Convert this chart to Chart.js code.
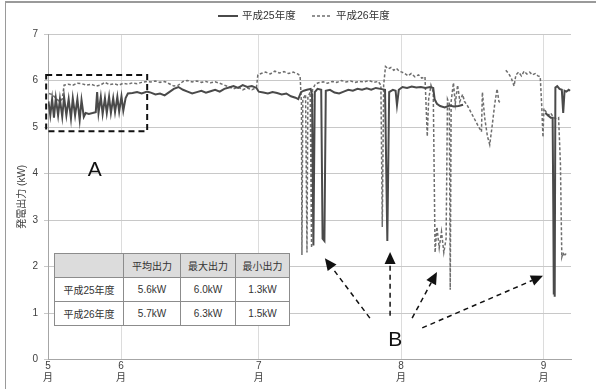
<!DOCTYPE html>
<html>
<head>
<meta charset="utf-8">
<script src="https://cdn.jsdelivr.net/npm/chart.js@4.4.1/dist/chart.umd.min.js"></script>
<style>
  html, body { margin: 0; padding: 0; background: #fff; }
  #wrap { position: relative; width: 596px; height: 389px; overflow: hidden; }
  #chart { position: absolute; left: 0; top: 0; }
  #frame { position: absolute; left: 5px; top: 1px; right: 0; bottom: 0;
           border-top: 2px solid #9a9a9a; border-left: 1px solid #9a9a9a; pointer-events: none; }
  #stats { position: absolute; left: 54px; top: 253px; border-collapse: collapse; background: #fff;
           font: 10px 'Liberation Sans', 'Noto Sans CJK JP', sans-serif; color: #333;
           border: 1.5px solid #777; table-layout: fixed; }
  #stats td { border: 1px solid #8c8c8c; text-align: center; padding: 0; height: 23px; }
  #stats tr:first-child td { background: #dcdcdc; }
  #stats td.corner { background: linear-gradient(to top right, #dcdcdc calc(50% - 0.6px), #8c8c8c 50%, #dcdcdc calc(50% + 0.6px)); }
</style>
</head>
<body>
<div id="wrap">
  <canvas id="chart" width="596" height="389"></canvas>
  <div id="frame"></div>
  <table id="stats"></table>
</div>
<script>
// x = days counted from May 1 (May 1 = 0)
const monthTickDays = [15.1, 31, 61, 92, 123];
const monthTickLabels = ['5', '6', '7', '8', '9'];
const xMin = 15.1;
const xMax = 129;

const seriesNames = ['平成25年度', '平成26年度'];

// 平成25年度 [day, kW]
const h25 = [
  [15.2,5.55],[15.6,5.25],[16.0,5.6],[16.4,5.2],[16.8,5.62],[17.3,5.25],[17.7,5.6],[18.2,5.22],
  [18.6,5.65],[19.1,5.25],[19.6,5.6],[20.1,5.18],[20.5,5.62],[21.0,5.25],[21.5,5.6],[22.0,5.15],
  [22.4,5.58],[22.9,5.22],[23.3,5.3],[24.0,5.28],[24.8,5.3],[25.5,5.32],[25.8,5.75],[26.1,5.3],
  [26.6,5.65],[27.0,5.28],[27.5,5.62],[27.9,5.3],[28.4,5.65],[28.8,5.3],[29.3,5.62],[29.7,5.32],
  [30.2,5.65],[30.6,5.33],[31.1,5.66],[31.5,5.35],[32.0,5.62],[32.5,5.72],[33.5,5.73],[34.5,5.75],
  [35.5,5.72],[36.7,5.76],
  [37.5,5.74],[38.5,5.70],[39.5,5.72],[40.5,5.68],[41.5,5.75],[42.5,5.82],[43.5,5.86],[44.5,5.80],
  [45.5,5.76],[46.5,5.72],[47.5,5.75],[48.5,5.78],[49.5,5.74],[50.5,5.77],[51.5,5.80],[52.5,5.76],
  [53.5,5.82],[54.5,5.85],[55.5,5.88],[56.5,5.84],[57.5,5.90],[58.5,5.86],[59.5,5.88],[60.5,5.84],
  [61.0,5.76],
  [62,5.74],[63,5.72],[64,5.75],[65,5.73],[66,5.70],[67,5.72],[68,5.66],[69,5.63],[69.6,5.60],
  [70.2,5.75],[70.8,5.78],[71.5,5.8],[72.3,5.82],[72.6,5.7],[72.9,2.45],[73.2,5.75],[73.8,5.82],
  [74.6,5.8],[74.9,2.6],[75.3,2.55],[75.6,5.78],[76.5,5.8],[77.5,5.74],[78.5,5.72],[79.5,5.76],
  [80.5,5.8],[81.5,5.78],[82.5,5.82],[83.5,5.8],[84.5,5.83],[85.5,5.8],[86.5,5.84],[87.5,5.82],
  [88.5,5.8],[89.0,2.55],[89.4,5.75],[90.2,5.8],[90.8,5.78],[91.1,5.47],[91.5,5.8],[92.3,5.86],
  [93.3,5.84],[94.3,5.87],[95.3,5.85],[96.3,5.86],[97.3,5.84],[98.3,5.86],[99.0,5.84],[99.3,5.6],
  [99.8,5.5],[100.5,5.45],[101.5,5.42],[102.5,5.46],[103.5,5.44],[104.5,5.45],[105.5,5.48],
  [106.0,null],
  [123.4,5.3],[124.0,5.25],[124.6,5.2],[125.0,5.2],[125.15,3.15],[125.25,1.4],[125.35,3.0],
  [125.45,1.35],[125.6,5.85],[126.0,5.88],[126.5,5.82],[127.0,5.8],[127.3,5.3],[127.6,5.78],
  [128.0,5.76],[128.5,5.8],[128.8,5.78]
];

// 平成26年度 [day, kW]
const h26 = [
  [15.3,5.72],[16.0,5.7],[16.8,5.62],[17.6,5.55],[18.2,5.6],[18.6,5.9],[19.5,5.92],[20.5,5.9],
  [21.5,5.94],[22.5,5.93],[23.5,5.9],[24.5,5.92],[25.5,5.88],[26.5,5.9],[27.5,5.96],[28.5,5.91],
  [29.5,5.93],[30.5,5.9],[31.5,5.94],[32.5,5.92],[33.5,5.95],[34.5,5.93],[35.5,5.96],[36.7,5.98],
  [37.5,5.97],[38.5,5.99],[39.5,5.96],[40.5,5.98],[41.5,5.93],[42.5,5.88],[43.5,5.9],[44.5,5.98],
  [45.5,6.0],[46.5,5.97],[47.5,5.99],[48.5,5.96],[49.5,5.98],[50.5,5.95],[51.5,5.97],[52.5,5.94],
  [53.5,5.9],[54.5,5.86],[55.5,5.82],[56.5,5.86],[57.5,5.8],[58.5,5.84],[59.5,5.8],[60.5,5.85],
  [60.8,6.12],
  [61.5,6.15],[62.5,6.18],[63.5,6.14],[64.5,6.2],[65.5,6.16],[66.5,6.19],[67.5,6.15],[68.5,6.18],
  [69.5,6.14],[70.0,6.1],[70.3,5.5],[70.4,2.25],[70.6,5.6],[71.2,5.7],[71.5,2.3],[71.7,5.65],
  [72.2,5.75],[72.5,2.4],[72.7,5.8],[73.3,5.92],[74,5.95],[75,5.97],[76,5.94],[77,5.98],[78,5.96],
  [79,6.0],[80,5.97],[81,5.99],[82,5.96],[83,5.98],[84,5.97],[85,6.0],[86,5.96],[87,5.98],
  [87.6,5.9],[87.9,2.85],[88.2,5.9],[88.6,6.3],[89.2,6.25],[89.8,6.28],[90.4,6.22],[91.0,6.26],
  [91.6,6.2],[92.2,6.18],[92.8,6.15],[93.5,6.1],[94.2,6.15],[95.0,6.08],[95.8,6.12],[96.5,6.05],
  [97.2,6.08],[97.7,4.8],[98.0,5.6],[98.5,5.9],[99.0,5.75],[99.4,2.3],[99.8,2.85],[100.3,2.4],
  [100.8,2.75],[101.3,2.3],[101.8,2.6],[102.1,5.6],[102.5,5.5],[102.7,1.5],[102.9,5.55],
  [103.4,5.95],[103.8,5.5],[104.3,5.9],[104.8,5.55],[105.4,5.7],[105.8,5.55],[106.5,5.45],
  [107.3,5.3],[108.1,5.15],[108.9,5.0],[109.5,4.9],[109.7,5.75],[110.2,5.2],[110.8,4.8],
  [111.3,4.62],[111.8,5.0],[112.4,5.5],[112.9,5.82],[113.3,5.55],[113.8,5.5],
  [114.3,null],
  [114.8,6.22],[115.4,6.15],[116.0,6.05],[116.6,5.88],[117.0,6.12],[117.6,6.18],[118.2,6.1],
  [118.8,6.2],[119.4,6.14],[120.0,6.18],[120.6,6.12],[121.2,6.15],[121.8,6.1],[122.3,6.08],
  [122.6,5.5],[122.9,4.78],[123.1,5.4],[123.4,5.35],[124.0,5.25],[124.6,5.3],[125.2,5.2],
  [125.8,5.18],[126.3,5.2],[126.7,4.2],[127.0,2.2],[127.3,2.3],[127.6,2.22],[127.9,2.28]
];

// inset table
const tableCols = ['平均出力', '最大出力', '最小出力'];
const tableRows = ['平成25年度', '平成26年度'];
const tableVals = [['5.6kW', '6.0kW', '1.3kW'], ['5.7kW', '6.3kW', '1.5kW']];

// notes drawn over the plot, in data units
const noteBox = { x1: 14.7, y1: 6.12, x2: 36.7, y2: 4.91 };
const noteLetters = [{ t: 'A', x: 25.3, y: 4.07 }, { t: 'B', x: 90.7, y: 0.42 }];
const noteArrows = [
  [85.2, 0.89, 75.4, 2.18],
  [89.6, 0.94, 89.6, 2.31],
  [94.4, 0.89, 99.8, 1.88],
  [96.6, 0.68, 122.9, 1.80]
];

// build table
const tbl = document.getElementById('stats');
const colW = [69, 57, 55, 54];
let html = '<colgroup>' + colW.map(w => `<col style="width:${w}px">`).join('') + '</colgroup>';
html += '<tr><td class="corner"></td>' + tableCols.map(c => `<td>${c}</td>`).join('') + '</tr>';
tableRows.forEach((r, i) => {
    html += `<tr><td>${r}</td>` + tableVals[i].map(v => `<td>${v}</td>`).join('') + '</tr>';
});
tbl.innerHTML = html;

Chart.defaults.font.family = "'Liberation Sans', 'Noto Sans CJK JP', sans-serif";
Chart.defaults.color = '#404040';

const toXY = arr => arr.map(p => ({ x: p[0], y: p[1] }));

const legendPlugin = {
    id: 'topLegend',
    afterDraw(chart) {
        const { ctx } = chart;
        ctx.save();
        ctx.font = "10.5px 'Liberation Sans', 'Noto Sans CJK JP', sans-serif";
        ctx.fillStyle = '#333';
        ctx.textBaseline = 'middle';
        const y = 16;
        // solid
        ctx.strokeStyle = '#4a4a4a';
        ctx.lineWidth = 2;
        ctx.beginPath(); ctx.moveTo(218, y); ctx.lineTo(238, y); ctx.stroke();
        ctx.fillText(seriesNames[0], 242, y);
        // dashed
        ctx.strokeStyle = '#6e6e6e';
        ctx.lineWidth = 1.5;
        ctx.setLineDash([3, 2]);
        ctx.beginPath(); ctx.moveTo(312, y); ctx.lineTo(332, y); ctx.stroke();
        ctx.setLineDash([]);
        ctx.fillText(seriesNames[1], 336, y);
        ctx.restore();
    }
};

function drawArrow(ctx, x1, y1, x2, y2) {
    const ang = Math.atan2(y2 - y1, x2 - x1);
    const headLen = 12, headW = 5.5;
    const bx = x2 - headLen * Math.cos(ang), by = y2 - headLen * Math.sin(ang);
    ctx.setLineDash([5, 4]);
    ctx.beginPath(); ctx.moveTo(x1, y1); ctx.lineTo(bx, by); ctx.stroke();
    ctx.setLineDash([]);
    ctx.beginPath();
    ctx.moveTo(x2, y2);
    ctx.lineTo(bx + headW * Math.sin(ang), by - headW * Math.cos(ang));
    ctx.lineTo(bx - headW * Math.sin(ang), by + headW * Math.cos(ang));
    ctx.closePath();
    ctx.fill();
}

const notesPlugin = {
    id: 'notes',
    afterDatasetsDraw(chart) {
        const { ctx, scales } = chart;
        const px = v => scales.x.getPixelForValue(v);
        const py = v => scales.y.getPixelForValue(v);
        ctx.save();
        ctx.strokeStyle = '#111';
        ctx.fillStyle = '#111';

        // dashed box A
        ctx.lineWidth = 2;
        ctx.setLineDash([6, 4]);
        ctx.strokeRect(px(noteBox.x1), py(noteBox.y1), px(noteBox.x2) - px(noteBox.x1), py(noteBox.y2) - py(noteBox.y1));
        ctx.setLineDash([]);

        // arrows
        ctx.lineWidth = 1.5;
        noteArrows.forEach(a => drawArrow(ctx, px(a[0]), py(a[1]), px(a[2]), py(a[3])));

        // letters
        ctx.font = "21px 'Liberation Sans', sans-serif";
        ctx.textAlign = 'center';
        ctx.textBaseline = 'middle';
        noteLetters.forEach(n => ctx.fillText(n.t, px(n.x), py(n.y)));
        ctx.restore();
    }
};

new Chart(document.getElementById('chart').getContext('2d'), {
    type: 'line',
    data: {
        datasets: [{
            label: seriesNames[0],
            data: toXY(h25),
            borderColor: '#4a4a4a',
            borderWidth: 2,
            pointRadius: 0,
            tension: 0,
            spanGaps: false
        },
        {
            label: seriesNames[1],
            data: toXY(h26),
            borderColor: '#6e6e6e',
            borderWidth: 1.5,
            borderDash: [3, 2],
            pointRadius: 0,
            tension: 0,
            spanGaps: false
        }]
    },
    options: {
        responsive: false,
        animation: false,
        layout: { padding: { left: 12, right: 25, top: 34, bottom: 0 } },
        plugins: { legend: { display: false }, tooltip: { enabled: false } },
        scales: {
            x: {
                type: 'linear',
                min: xMin,
                max: xMax,
                afterBuildTicks: s => { s.ticks = monthTickDays.map(v => ({ value: v })); },
                afterFit: s => { s.height = 29.5; },
                ticks: {
                    autoSkip: false,
                    maxRotation: 0,
                    padding: 1,
                    font: { size: 10, lineHeight: 1.15 },
                    callback: (v, i) => [monthTickLabels[i], '月']
                },
                grid: { color: '#dcdcdc', drawTicks: false },
                border: { color: '#a6a6a6' }
            },
            y: {
                min: 0,
                max: 7,
                afterFit: s => { s.width = 36; },
                ticks: { stepSize: 1, padding: 6, font: { size: 10 } },
                grid: { color: '#c8c8c8', tickLength: 4 },
                border: { color: '#a6a6a6' },
                title: { display: true, text: '発電出力 (kW)', font: { size: 10 } }
            }
        }
    },
    plugins: [legendPlugin, notesPlugin]
});
</script>
</body>
</html>
